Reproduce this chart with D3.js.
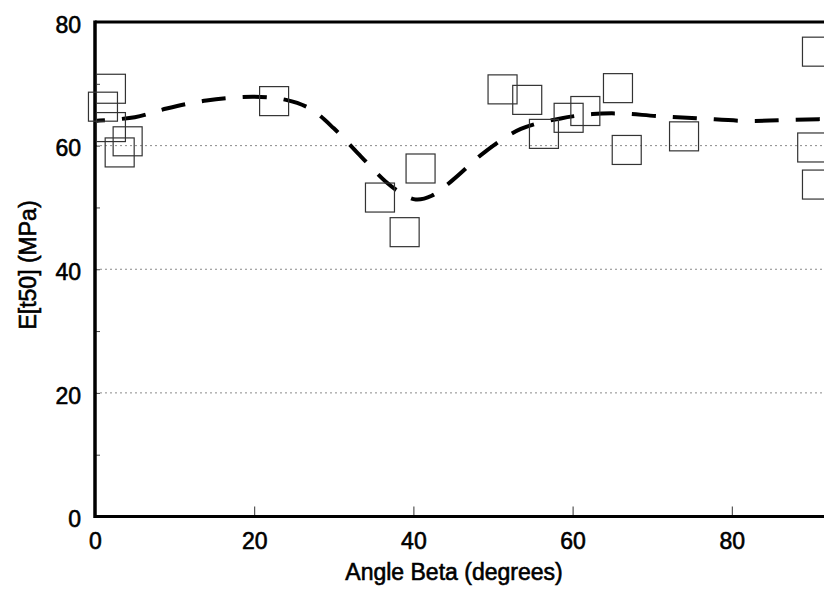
<!DOCTYPE html>
<html>
<head>
<meta charset="utf-8">
<script src="https://cdn.jsdelivr.net/npm/d3@7"></script>
<style>
  body { margin: 0; background: #fff; }
  svg { display: block; }
  .axis text { font-family: "Liberation Sans", Arial, sans-serif; font-size: 23px; fill: #000; stroke: #000; stroke-width: 0.6px; }
  .axis path { display: none; }
  .title { font-family: "Liberation Sans", Arial, sans-serif; font-size: 23px; fill: #000; stroke: #000; stroke-width: 0.6px; }
</style>
</head>
<body>
<script>
// measured points (open squares)
var ptX = [1.0, 2.0, 2.0, 3.1, 4.1, 22.5, 35.8, 38.9, 40.9, 51.2, 54.3, 56.4, 59.5, 61.6, 65.7, 66.8, 74.0, 90.7, 90.1, 90.7];
var ptY = [66.3, 69.2, 63.0, 58.9, 60.7, 67.2, 51.6, 46.0, 56.3, 69.1, 67.4, 61.9, 64.5, 65.6, 69.3, 59.3, 61.5, 75.2, 59.7, 53.7];

// fitted dashed curve
var fitX = [0, 5, 9, 14, 20, 24, 27, 30, 33, 36.5, 38.5, 40.3, 42.3, 45, 49, 53.5, 58.5, 62.5, 66, 70.5, 76, 82, 88, 95];
var fitY = [64.0, 64.6, 66.0, 67.3, 67.9, 67.4, 66.0, 62.8, 58.8, 54.2, 52.3, 51.3, 51.9, 54.5, 59.0, 62.7, 64.4, 65.1, 65.2, 64.8, 64.4, 64.0, 64.2, 64.4];

var xTicks = [0, 20, 40, 60, 80];
var yTicks = [0, 20, 40, 60, 80];
var yMinor = [0, 10, 20, 30, 40, 50, 60, 70, 80];
var gridY = [20, 40, 60];

var W = 824, H = 591;
var plotLeft = 95, plotTop = 22, plotBottom = 516.5;

var x = d3.scaleLinear().domain([0, 100]).range([plotLeft, plotLeft + 796]);
var y = d3.scaleLinear().domain([0, 80]).range([plotBottom, plotTop]);

var svg = d3.select('body').append('svg')
    .attr('width', W)
    .attr('height', H);

// dotted gridlines
svg.selectAll('line.grid')
  .data(gridY)
  .enter()
  .append('line')
  .attr('class', 'grid')
  .attr('x1', plotLeft)
  .attr('x2', W)
  .attr('y1', function (d) { return y(d); })
  .attr('y2', function (d) { return y(d); })
  .attr('stroke', '#8a8a8a')
  .attr('stroke-width', 1)
  .attr('stroke-dasharray', '2,3');

// x axis labels
svg.append('g')
    .attr('class', 'axis')
    .attr('transform', 'translate(0,' + plotBottom + ')')
    .call(d3.axisBottom(x).tickValues(xTicks).tickSize(0).tickPadding(16));

// x inner ticks
svg.append('g')
    .attr('class', 'axis')
    .attr('transform', 'translate(0,' + plotBottom + ')')
    .call(d3.axisTop(x).tickValues(xTicks.slice(1)).tickSize(10).tickFormat(''))
    .selectAll('line').attr('stroke', '#333');

// y axis labels
var ya = svg.append('g')
    .attr('class', 'axis')
    .attr('transform', 'translate(' + plotLeft + ',0)')
    .call(d3.axisLeft(y).tickValues(yTicks).tickSize(0).tickPadding(14));
ya.selectAll('text').attr('dy', '0.45em');

// y inner ticks
svg.append('g')
    .attr('class', 'axis')
    .attr('transform', 'translate(' + plotLeft + ',0)')
    .call(d3.axisRight(y).tickValues(yMinor).tickSize(5).tickFormat(''))
    .selectAll('line').attr('stroke', '#444');

// frame: left, bottom, top
svg.append('line').attr('x1', plotLeft).attr('x2', plotLeft).attr('y1', plotTop - 1.5).attr('y2', plotBottom + 1.5)
  .attr('stroke', '#000').attr('stroke-width', 3.5);
svg.append('line').attr('x1', plotLeft).attr('x2', W).attr('y1', plotBottom).attr('y2', plotBottom)
  .attr('stroke', '#000').attr('stroke-width', 3);
svg.append('line').attr('x1', plotLeft).attr('x2', W).attr('y1', plotTop).attr('y2', plotTop)
  .attr('stroke', '#000').attr('stroke-width', 3);

// dashed fit
var fit = fitX.map(function (d, i) { return [d, fitY[i]]; });
var line = d3.line()
    .x(function (d) { return x(d[0]); })
    .y(function (d) { return y(d[1]); })
    .curve(d3.curveCatmullRom);

svg.append('path')
    .datum(fit)
    .attr('d', line)
    .attr('fill', 'none')
    .attr('stroke', '#000')
    .attr('stroke-width', 4)
    .attr('stroke-dasharray', '24,17')
    .attr('stroke-dashoffset', 14);

// open squares
var s = 29;
svg.selectAll('rect.pt')
  .data(ptX)
  .enter()
  .append('rect')
  .attr('class', 'pt')
  .attr('x', function (d) { return x(d) - s / 2; })
  .attr('y', function (d, i) { return y(ptY[i]) - s / 2; })
  .attr('width', s)
  .attr('height', s)
  .attr('fill', 'none')
  .attr('stroke', '#333')
  .attr('stroke-width', 1.2);

// titles
svg.append('text')
    .attr('class', 'title')
    .attr('x', 454)
    .attr('y', 580)
    .attr('text-anchor', 'middle')
    .text('Angle Beta (degrees)');

svg.append('text')
    .attr('class', 'title')
    .attr('transform', 'translate(36,265) rotate(-90)')
    .attr('text-anchor', 'middle')
    .text('E[t50] (MPa)');
</script>
</body>
</html>
